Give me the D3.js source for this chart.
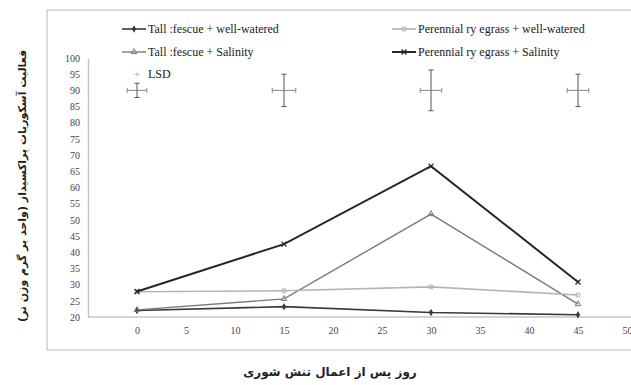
<!DOCTYPE html>
<html>
<head>
<meta charset="utf-8">
<script src="https://cdn.jsdelivr.net/npm/d3@7"></script>
<style>
  html, body { margin: 0; padding: 0; background: #fff; }
  svg { display: block; }
  .serif { font-family: "Liberation Serif", "DejaVu Serif", "Times New Roman", serif; }
</style>
</head>
<body>
<svg id="chart" width="631" height="385"></svg>
<script>
// Days after the onset of salinity stress
const days = [0, 15, 30, 45];

// Ascorbate peroxidase activity per treatment
const tallWell      = [22.0, 23.2, 21.4, 20.7];
const tallSalt      = [22.2, 25.6, 51.8, 24.0];
const ryeWell       = [27.8, 28.1, 29.3, 26.8];
const ryeSalt       = [27.9, 42.5, 66.6, 30.8];

// LSD bars, drawn around a common level
const lsdLevel = 90;
const lsdY = [2.2, 5.0, 6.3, 5.0];
const lsdX = [1.0, 1.2, 1.1, 1.1];

const xTicks = [0, 5, 10, 15, 20, 25, 30, 35, 40, 45, 50];
const yTicks = [20, 25, 30, 35, 40, 45, 50, 55, 60, 65, 70, 75, 80, 85, 90, 95, 100];

const seriesNames = [
  "Tall :fescue + well-watered",
  "Tall :fescue + Salinity",
  "Perennial ry egrass + well-watered",
  "Perennial ry egrass + Salinity"
];

const svg = d3.select("#chart");

const x = d3.scaleLinear().domain([-5, 50]).range([88, 627]);
const y = d3.scaleLinear().domain([20, 100]).range([317, 58]);

// outer chart frame
svg.append("rect")
  .attr("x", 47).attr("y", 10).attr("width", 600).attr("height", 340)
  .attr("fill", "none").attr("stroke", "#d0d0d0").attr("stroke-width", 1.5);

// axes
const xAxis = svg.append("g").attr("transform", `translate(0,${y(20)})`)
  .call(d3.axisBottom(x).tickValues(xTicks).tickSize(0).tickPadding(10));
xAxis.select(".domain").attr("d", `M${x(-5)},0H631`).attr("stroke", "#c4c4c4").attr("stroke-width", 1.5);
xAxis.selectAll("text").attr("class", "serif").attr("font-family", null).attr("font-size", 10).attr("fill", "#444");

const yAxis = svg.append("g").attr("transform", `translate(${x(-5)},0)`)
  .call(d3.axisLeft(y).tickValues(yTicks).tickSize(0).tickPadding(8));
yAxis.select(".domain").attr("stroke", "#c4c4c4").attr("stroke-width", 1.5);
yAxis.selectAll("text").attr("class", "serif").attr("font-size", 10).attr("fill", "#444");
xAxis.attr("font-family", null);
yAxis.attr("font-family", null);

// series
const series = [
  { name: seriesNames[0], values: tallWell, color: "#3a3a3a", width: 1.6, marker: "diamond" },
  { name: seriesNames[1], values: tallSalt, color: "#7a7a7a", width: 1.4, marker: "triangle" },
  { name: seriesNames[2], values: ryeWell,  color: "#b4b4b4", width: 1.6, marker: "square" },
  { name: seriesNames[3], values: ryeSalt,  color: "#262626", width: 2.0, marker: "cross" }
];

const line = d3.line().x(d => x(d[0])).y(d => y(d[1]));

function drawMarker(g, type, cx, cy, color) {
  if (type === "diamond") {
    g.append("path").attr("d", d3.symbol(d3.symbolDiamond, 16)())
      .attr("transform", `translate(${cx},${cy})`).attr("fill", color);
  } else if (type === "triangle") {
    g.append("path").attr("d", d3.symbol(d3.symbolTriangle, 14)())
      .attr("transform", `translate(${cx},${cy})`).attr("fill", "none").attr("stroke", color).attr("stroke-width", 1);
  } else if (type === "square") {
    g.append("path").attr("d", d3.symbol(d3.symbolSquare, 14)())
      .attr("transform", `translate(${cx},${cy})`).attr("fill", "none").attr("stroke", color).attr("stroke-width", 1);
  } else {
    g.append("path").attr("d", d3.symbol(d3.symbolX, 18)())
      .attr("transform", `translate(${cx},${cy})`).attr("fill", "none").attr("stroke", color).attr("stroke-width", 1.3);
  }
}

series.forEach(s => {
  const pts = days.map((d, i) => [d, s.values[i]]);
  const g = svg.append("g");
  g.append("path").datum(pts).attr("d", line)
    .attr("fill", "none").attr("stroke", s.color).attr("stroke-width", s.width);
  pts.forEach(p => drawMarker(g, s.marker, x(p[0]), y(p[1]), s.color));
});

// LSD crosses
const lsdG = svg.append("g").attr("stroke", "#555").attr("stroke-width", 1);
days.forEach((d, i) => {
  const cx = x(d), cy = y(lsdLevel);
  const y1 = y(lsdLevel + lsdY[i]), y2 = y(lsdLevel - lsdY[i]);
  const x1 = x(d - lsdX[i]), x2 = x(d + lsdX[i]);
  lsdG.append("line").attr("x1", cx).attr("x2", cx).attr("y1", y1).attr("y2", y2);
  lsdG.append("line").attr("x1", cx - 2.5).attr("x2", cx + 2.5).attr("y1", y1).attr("y2", y1);
  lsdG.append("line").attr("x1", cx - 2.5).attr("x2", cx + 2.5).attr("y1", y2).attr("y2", y2);
  lsdG.append("line").attr("x1", x1).attr("x2", x2).attr("y1", cy).attr("y2", cy).attr("stroke", "#888");
  lsdG.append("line").attr("x1", x1).attr("x2", x1).attr("y1", cy - 2.5).attr("y2", cy + 2.5).attr("stroke", "#888");
  lsdG.append("line").attr("x1", x2).attr("x2", x2).attr("y1", cy - 2.5).attr("y2", cy + 2.5).attr("stroke", "#888");
});

// legend
const legendPos = [
  { lx: 122, ty: 29 }, { lx: 122, ty: 52 }, { lx: 392, ty: 29 }, { lx: 392, ty: 52 }
];
series.forEach((s, i) => {
  const p = legendPos[i];
  const g = svg.append("g");
  g.append("line").attr("x1", p.lx).attr("x2", p.lx + 24).attr("y1", p.ty).attr("y2", p.ty)
    .attr("stroke", s.color).attr("stroke-width", s.width);
  drawMarker(g, s.marker, p.lx + 12, p.ty, s.color);
  g.append("text").attr("class", "serif").attr("x", p.lx + 26).attr("y", p.ty).attr("dy", "0.35em")
    .attr("font-size", 12).attr("fill", "#222").text(s.name);
});
const lsdLeg = svg.append("g");
lsdLeg.append("text").attr("class", "serif").attr("x", 137).attr("y", 74).attr("dy", "0.35em").attr("text-anchor", "middle")
  .attr("font-size", 11).attr("fill", "#999").text("+");
lsdLeg.append("text").attr("class", "serif").attr("x", 148).attr("y", 74).attr("dy", "0.35em")
  .attr("font-size", 12).attr("fill", "#222").text("LSD");

// axis titles
svg.append("text")
  .attr("transform", "translate(22,186) rotate(-90)")
  .attr("text-anchor", "middle").attr("dy", "0.35em")
  .attr("font-family", "'DejaVu Sans', 'Noto Sans', sans-serif").attr("font-size", 11).attr("font-weight", "bold")
  .attr("fill", "#222").attr("direction", "rtl")
  .text("فعالیت آسکوربات پراکسیداز (واحد بر گرم وزن تر)");

svg.append("text")
  .attr("x", 330).attr("y", 376).attr("text-anchor", "middle")
  .attr("font-family", "'DejaVu Sans', 'Noto Sans', sans-serif").attr("font-size", 12).attr("font-weight", "bold")
  .attr("fill", "#222").attr("direction", "rtl")
  .text("روز پس از اعمال تنش شوری");
</script>
</body>
</html>
